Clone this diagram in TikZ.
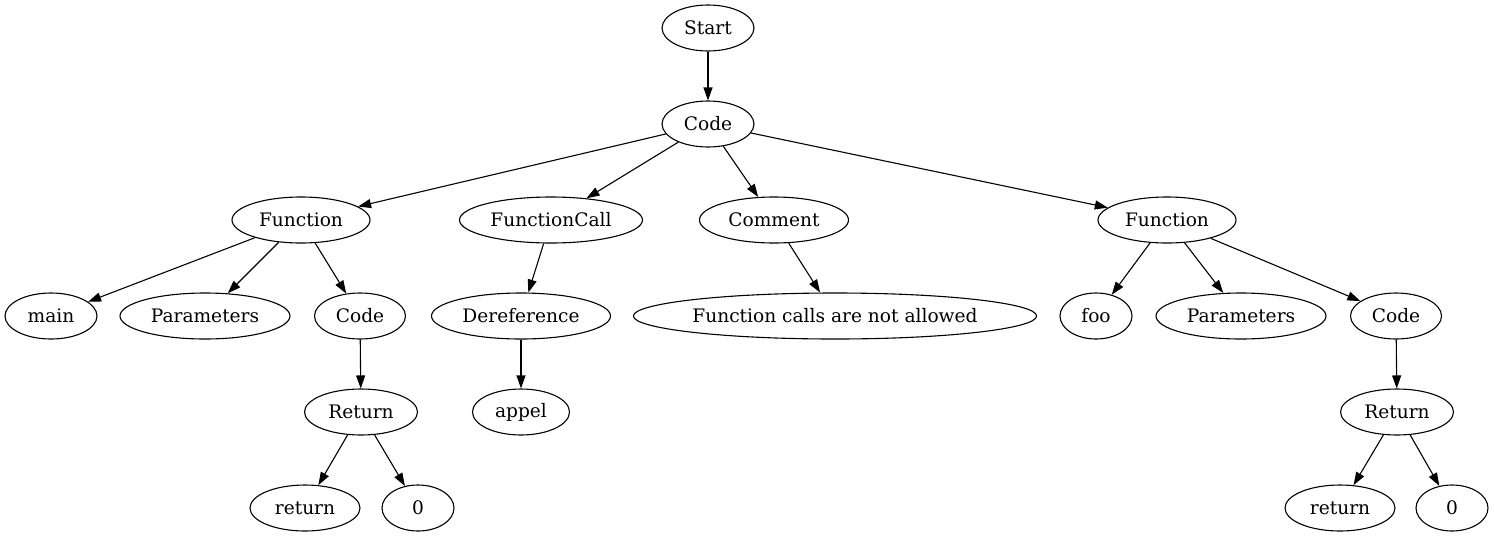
\documentclass[tikz,border=0pt]{standalone}
\usepackage{fontspec}
\setmainfont{DejaVu Serif}
\usetikzlibrary{shapes.geometric,arrows.meta}

\begin{document}
\begin{tikzpicture}[x=1pt, y=-1pt, line width=1.1pt,
  nd/.style={draw, ellipse, inner sep=0pt, minimum height=46pt, font=\fontsize{18.6}{20}\selectfont},
  ed/.style={-{Triangle[length=13pt,width=9pt]}}]
\useasboundingbox (0,0) rectangle (1494,539);
% levels
\node[nd, minimum width=92pt] (start) at (708,28) {Start};
\node[nd, minimum width=92pt] (code) at (708,124) {Code};
\node[nd, minimum width=138pt] (fl) at (301,220) {Function};
\node[nd, minimum width=183pt] (call) at (551,220) {FunctionCall};
\node[nd, minimum width=149pt] (com) at (774,220) {Comment};
\node[nd, minimum width=138pt] (fr) at (1167,220) {Function};
\node[nd, minimum width=92pt] (main) at (51,316) {main};
\node[nd, minimum width=170pt] (parl) at (205,316) {Parameters};
\node[nd, minimum width=91pt] (codel) at (360,316) {Code};
\node[nd, minimum width=179pt] (deref) at (521,316) {Dereference};
\node[nd, minimum width=398pt] (msg) at (835,316) {Function calls are not allowed};
\node[nd, minimum width=72pt] (foo) at (1096,316) {foo};
\node[nd, minimum width=170pt] (parr) at (1241,316) {Parameters};
\node[nd, minimum width=91pt] (coder) at (1396,316) {Code};
\node[nd, minimum width=113pt] (retl) at (361,412) {Return};
\node[nd, minimum width=97pt] (appel) at (521,412) {appel};
\node[nd, minimum width=113pt] (retr) at (1397,412) {Return};
\node[nd, minimum width=110pt] (kwl) at (305,508) {return};
\node[nd, minimum width=72pt] (zl) at (418,508) {0};
\node[nd, minimum width=110pt] (kwr) at (1340,508) {return};
\node[nd, minimum width=72pt] (zr) at (1452,508) {0};
% edges
\draw[ed] (start) -- (code);
\foreach \t in {fl,call,com,fr} \draw[ed] (code) -- (\t);
\foreach \t in {main,parl,codel} \draw[ed] (fl) -- (\t);
\draw[ed] (call) -- (deref);
\draw[ed] (com) -- (msg);
\foreach \t in {foo,parr,coder} \draw[ed] (fr) -- (\t);
\draw[ed] (codel) -- (retl);
\draw[ed] (deref) -- (appel);
\draw[ed] (coder) -- (retr);
\draw[ed] (retl) -- (kwl);
\draw[ed] (retl) -- (zl);
\draw[ed] (retr) -- (kwr);
\draw[ed] (retr) -- (zr);
\end{tikzpicture}
\end{document}
